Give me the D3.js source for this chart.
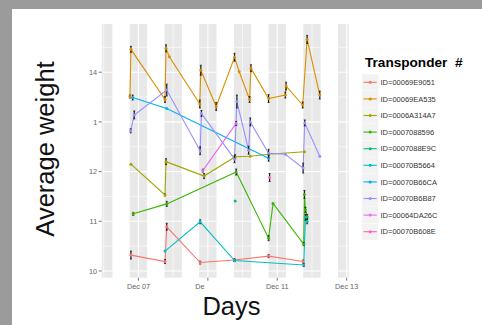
<!DOCTYPE html>
<html><head><meta charset="utf-8">
<script src="https://cdn.jsdelivr.net/npm/d3@7"></script>
<style>
html,body{margin:0;padding:0;background:#fff;}
svg{display:block;font-family:"Liberation Sans",Arial,sans-serif;}
</style></head>
<body>
<svg id="chart" width="482" height="325"></svg>
<script>
// ---------- data ----------
const categories = ["ID=00069E9051","ID=00069EA535","ID=0006A314A7","ID=0007088596","ID=0007088E9C",
  "ID=00070B5664","ID=00070B66CA","ID=00070B6B87","ID=00064DA26C","ID=00070B608E"];
const colors = ["#F8766D","#D89000","#A3A500","#39B600","#00BF7D","#00BFC4","#00B0F6","#9590FF","#E76BF3","#FF62BC"];

// [time, average weight, error half-width]
const id00069E9051 = [["2015-12-06T18:48",10.32,0.08],["2015-12-07T18:23",10.19,0.04],["2015-12-07T19:34",10.89,0.07],
  ["2015-12-08T18:40",10.17,0.03],["2015-12-09T18:27",10.22,0.03],["2015-12-10T18:00",10.30,0.03],["2015-12-11T17:54",10.19,0.03]];
const id00069EA535 = [["2015-12-06T18:06",13.51,0.03],["2015-12-06T18:48",14.46,0.06],["2015-12-07T18:23",13.45,0.06],
  ["2015-12-07T19:04",14.48,0.07],["2015-12-07T21:22",14.31,0],["2015-12-08T18:27",13.36,0.08],["2015-12-08T19:08",14.04,0.1],
  ["2015-12-09T05:45",13.31,0.08],["2015-12-09T18:27",14.30,0.08],["2015-12-09T21:42",14.01,0],["2015-12-10T04:51",13.45,0.06],
  ["2015-12-10T05:48",14.08,0.07],["2015-12-10T18:00",13.47,0.08],["2015-12-11T05:36",13.54,0.06],["2015-12-11T06:06",13.72,0.08],
  ["2015-12-11T17:36",13.34,0.06],["2015-12-11T20:40",14.66,0.08],["2015-12-12T05:24",13.54,0.08]];
const id0006A314A7 = [["2015-12-06T18:48",12.15,0],["2015-12-07T18:23",11.53,0.02],["2015-12-07T19:04",12.20,0.06],
  ["2015-12-08T21:24",11.91,0.05],["2015-12-09T18:54",12.30,0.04],["2015-12-10T05:20",12.31,0],
  ["2015-12-10T18:00",12.35,0],["2015-12-11T18:48",12.40,0]];
const id0007088596 = [["2015-12-06T20:24",11.15,0.03],["2015-12-07T19:34",11.35,0.05],["2015-12-09T19:36",11.99,0.06],
  ["2015-12-10T18:00",10.66,0.05],["2015-12-10T21:06",11.36,0],["2015-12-11T18:18",10.54,0.03],
  ["2015-12-11T18:48",11.54,0.08],["2015-12-11T19:30",11.23,0.05],["2015-12-11T20:42",11.09,0.05]];
const id0007088E9C = [["2015-12-09T18:54",11.41,0]];
const id00070B5664 = [["2015-12-07T18:23",10.40,0],["2015-12-08T18:40",10.99,0.04],["2015-12-09T18:27",10.21,0.02],
  ["2015-12-11T18:18",10.12,0.03],["2015-12-11T19:30",11.08,0.06],["2015-12-11T20:42",11.00,0.05]];
const id00070B66CA = [["2015-12-06T20:00",13.49,0.05],["2015-12-07T19:34",13.27,0],["2015-12-10T18:00",12.27,0.06]];
const id00070B6B87 = [["2015-12-06T18:36",12.82,0.04],["2015-12-06T21:06",13.14,0.08],["2015-12-07T19:34",13.64,0.12],
  ["2015-12-08T18:40",12.42,0.08],["2015-12-08T19:34",13.17,0.06],["2015-12-09T18:27",12.25,0.07],
  ["2015-12-09T20:06",13.41,0.13],["2015-12-10T04:12",12.43,0.08],["2015-12-10T05:20",13.00,0.08],
  ["2015-12-10T18:00",12.37,0.08],["2015-12-11T05:36",12.35,0],["2015-12-11T17:54",12.07,0.1],
  ["2015-12-11T19:00",12.98,0.06],["2015-12-12T05:24",12.31,0]];
const id00064DA26C = [["2015-12-08T20:30",12.02,0.03],["2015-12-09T19:36",12.97,0.04]];
const id00070B608E = [["2015-12-10T18:42",11.88,0.08]];

const seriesData = [id00069E9051,id00069EA535,id0006A314A7,id0007088596,id0007088E9C,
  id00070B5664,id00070B66CA,id00070B6B87,id00064DA26C,id00070B608E];

const yTicks = [10,11,12,13,14];
const yTickLabels = ["10","11","12","1","14"];
const xTicks = ["2015-12-07","2015-12-09","2015-12-11","2015-12-13"];
const xTickLabels = ["Dec 07","De","Dec 11","Dec 13"];
const xMinor = ["2015-12-06","2015-12-08","2015-12-10","2015-12-12"];
const yMinor = [10.5,11.5,12.5,13.5,14.5];
const dayStarts = ["2015-12-06","2015-12-07","2015-12-08","2015-12-09","2015-12-10","2015-12-11","2015-12-12"];

// ---------- drawing ----------
const parse = d3.timeParse("%Y-%m-%dT%H:%M");
const parseDay = d3.timeParse("%Y-%m-%d");
const svg = d3.select("#chart");

// screen frame
svg.append("rect").attr("width",482).attr("height",325).attr("fill","#9b9b9b");
svg.append("rect").attr("x",12).attr("y",9).attr("width",470).attr("height",316).attr("fill","#ffffff");

const P = {l:101.7, r:348.7, t:24, b:277.7};
const x = d3.scaleTime().domain([parse("2015-12-05T22:35"), parse("2015-12-13T01:25")]).range([P.l, P.r]);
const y = d3.scaleLinear().domain([9.865, 14.97]).range([P.b, P.t]);

const g = svg.append("g");
g.append("rect").attr("x",P.l).attr("y",P.t).attr("width",P.r-P.l).attr("height",P.b-P.t).attr("fill","#e8e8e8");
// grid
g.selectAll(".ymin").data(yMinor).join("line").attr("x1",P.l).attr("x2",P.r)
  .attr("y1",d=>y(d)).attr("y2",d=>y(d)).attr("stroke","#fff").attr("stroke-width",0.6);
g.selectAll(".ymaj").data(yTicks).join("line").attr("x1",P.l).attr("x2",P.r)
  .attr("y1",d=>y(d)).attr("y2",d=>y(d)).attr("stroke","#fff").attr("stroke-width",1.1);
g.selectAll(".xmin").data(xMinor).join("line").attr("y1",P.t).attr("y2",P.b)
  .attr("x1",d=>x(parseDay(d))).attr("x2",d=>x(parseDay(d))).attr("stroke","#fff").attr("stroke-width",0.6);
g.selectAll(".xmaj").data(xTicks).join("line").attr("y1",P.t).attr("y2",P.b)
  .attr("x1",d=>x(parseDay(d))).attr("x2",d=>x(parseDay(d))).attr("stroke","#fff").attr("stroke-width",1.1);
// daytime (06:00-18:00) white bands
g.selectAll(".day").data(dayStarts).join("rect")
  .attr("x",d=>x(d3.timeHour.offset(parseDay(d),6)))
  .attr("width",d=>x(d3.timeHour.offset(parseDay(d),18))-x(d3.timeHour.offset(parseDay(d),6)))
  .attr("y",P.t-0.5).attr("height",P.b-P.t+1).attr("fill","#fff");

// axes
const axisCol = "#555";
svg.selectAll(".yt").data(yTicks).join("line").attr("x1",P.l-3).attr("x2",P.l)
  .attr("y1",d=>y(d)).attr("y2",d=>y(d)).attr("stroke",axisCol).attr("stroke-width",0.8);
svg.selectAll(".ytl").data(yTicks).join("text").attr("x",P.l-4.5).attr("y",d=>y(d)+2.6)
  .attr("text-anchor","end").attr("font-size",7.3).attr("fill","#666").text((d,i)=>yTickLabels[i]);
svg.selectAll(".xt").data(xTicks).join("line").attr("y1",P.b).attr("y2",P.b+3)
  .attr("x1",d=>x(parseDay(d))).attr("x2",d=>x(parseDay(d))).attr("stroke",axisCol).attr("stroke-width",0.8);
svg.selectAll(".xtl").data(xTicks).join("text").attr("y",P.b+11.5)
  .attr("x",(d,i)=> i===1 ? x(parseDay(d))-12.5 : x(parseDay(d)))
  .attr("text-anchor",(d,i)=> i===1 ? "start" : "middle")
  .attr("font-size",7.3).attr("fill","#666").text((d,i)=>xTickLabels[i]);

svg.append("text").attr("x",231.5).attr("y",315).attr("text-anchor","middle")
  .attr("font-size",25.5).attr("fill","#111").text("Days");
svg.append("text").attr("transform","translate(53.5,149) rotate(-90)").attr("text-anchor","middle")
  .attr("font-size",25.5).attr("fill","#111").text("Average weight");

// series
const line = d3.line().x(d=>x(parse(d[0]))).y(d=>y(d[1]));
seriesData.forEach((s,i)=>{
  svg.append("path").datum(s).attr("d",line).attr("fill","none").attr("stroke",colors[i]).attr("stroke-width",1.1);
});
seriesData.forEach((s,i)=>{
  const eb = svg.append("g");
  s.filter(d=>d[2]>0).forEach(d=>{
    const cx = x(parse(d[0]));
    eb.append("line").attr("x1",cx).attr("x2",cx).attr("y1",y(d[1]-d[2])).attr("y2",y(d[1]+d[2]))
      .attr("stroke","#1a1a1a").attr("stroke-width",1.2);
    [d[1]-d[2], d[1]+d[2]].forEach(v=>eb.append("line").attr("x1",cx-1).attr("x2",cx+1)
      .attr("y1",y(v)).attr("y2",y(v)).attr("stroke","#1a1a1a").attr("stroke-width",0.8));
  });
  svg.append("g").selectAll("circle").data(s).join("circle")
    .attr("cx",d=>x(parse(d[0]))).attr("cy",d=>y(d[1])).attr("r",1.5).attr("fill",colors[i]);
});

// legend
const L = svg.append("g");
L.append("text").attr("x",365).attr("y",66.5).attr("font-size",13.6).attr("font-weight","bold")
  .attr("fill","#000").style("white-space","pre").text("Transponder  #");
categories.forEach((c,i)=>{
  const cy = 82.3 + i*16.6;
  L.append("rect").attr("x",362).attr("y",cy-8.1).attr("width",16.4).attr("height",16.2).attr("fill","#f2f2f2");
  L.append("line").attr("x1",363.5).attr("x2",376.8).attr("y1",cy).attr("y2",cy).attr("stroke",colors[i]).attr("stroke-width",1.1);
  L.append("circle").attr("cx",370.2).attr("cy",cy).attr("r",1.5).attr("fill",colors[i]);
  L.append("text").attr("x",380.5).attr("y",cy+2.6).attr("font-size",7.5).attr("fill","#333").text(c);
});
</script>
</body></html>
